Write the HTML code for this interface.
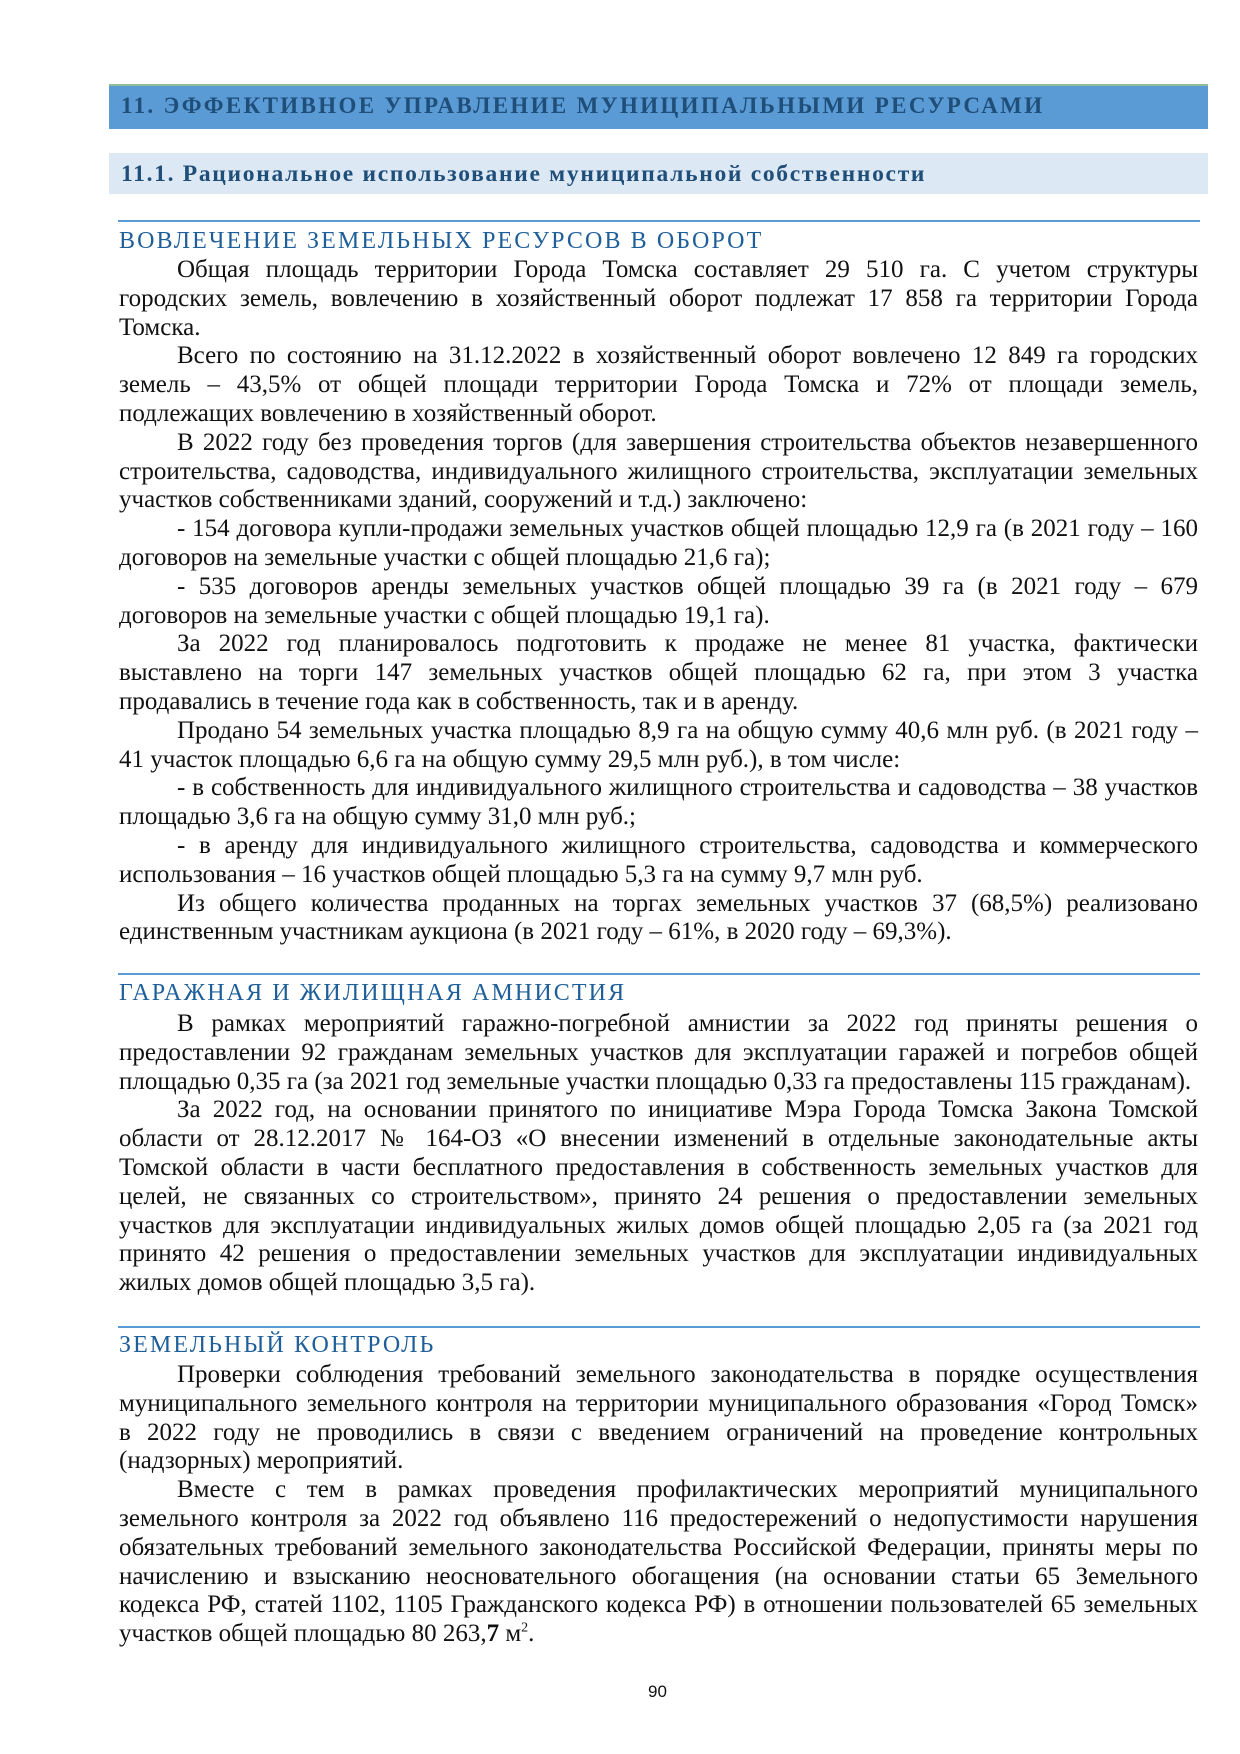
<!DOCTYPE html>
<html><head><meta charset="utf-8">
<style>
html,body{margin:0;padding:0;background:#fff;}
body{width:1240px;height:1754px;position:relative;overflow:hidden;font-family:"Liberation Serif","DejaVu Serif",serif;color:#111;}
.h1{position:absolute;left:109px;top:84px;width:1099px;height:43px;background:#5b9bd5;border-top:2px solid #8fbc9a;}
.h1 span{position:absolute;left:12px;top:7px;font-weight:bold;font-size:23px;letter-spacing:2.35px;color:#1f4e79;white-space:nowrap;}
.h2{position:absolute;left:109px;top:153px;width:1099px;height:41px;background:#dde8f5;}
.h2 span{position:absolute;left:12px;top:8px;font-weight:bold;font-size:23.5px;letter-spacing:1.7px;color:#1f4e79;white-space:nowrap;}
.rule{position:absolute;left:118px;width:1082px;height:0;border-top:2px solid #5b9bd5;}
.t{position:absolute;left:119px;font-size:24px;letter-spacing:2.1px;color:#1f5f99;white-space:nowrap;line-height:28px;}
.blk{position:absolute;left:119px;width:1079px;}
.blk div{height:28.8px;line-height:28.8px;font-size:25px;white-space:nowrap;text-align:justify;text-align-last:justify;}
.blk div.l{text-align:left;text-align-last:left;}
.blk div.i{padding-left:58px;}
.pn{position:absolute;left:648px;top:1682px;font-family:"Liberation Sans",sans-serif;font-size:17px;}
</style></head><body>
<div class="h1"><span>11. ЭФФЕКТИВНОЕ УПРАВЛЕНИЕ МУНИЦИПАЛЬНЫМИ РЕСУРСАМИ</span></div>
<div class="h2"><span>11.1. Рациональное использование муниципальной собственности</span></div>

<div class="rule" style="top:220px"></div>
<div class="t" style="top:227px">ВОВЛЕЧЕНИЕ ЗЕМЕЛЬНЫХ РЕСУРСОВ В ОБОРОТ</div>
<div class="blk" style="top:256px">
<div class="i">Общая площадь территории Города Томска составляет 29 510 га. С учетом структуры</div>
<div>городских земель, вовлечению в хозяйственный оборот подлежат 17 858 га территории Города</div>
<div class="l">Томска.</div>
<div class="i">Всего по состоянию на 31.12.2022 в хозяйственный оборот вовлечено 12 849 га городских</div>
<div>земель – 43,5% от общей площади территории Города Томска и 72% от площади земель,</div>
<div class="l">подлежащих вовлечению в хозяйственный оборот.</div>
<div class="i">В 2022 году без проведения торгов (для завершения строительства объектов незавершенного</div>
<div>строительства, садоводства, индивидуального жилищного строительства, эксплуатации земельных</div>
<div class="l">участков собственниками зданий, сооружений и т.д.) заключено:</div>
<div class="i">- 154 договора купли-продажи земельных участков общей площадью 12,9 га (в 2021 году – 160</div>
<div class="l">договоров на земельные участки с общей площадью 21,6 га);</div>
<div class="i">- 535 договоров аренды земельных участков общей площадью 39 га (в 2021 году – 679</div>
<div class="l">договоров на земельные участки с общей площадью 19,1 га).</div>
<div class="i">За 2022 год планировалось подготовить к продаже не менее 81 участка, фактически</div>
<div>выставлено на торги 147 земельных участков общей площадью 62 га, при этом 3 участка</div>
<div class="l">продавались в течение года как в собственность, так и в аренду.</div>
<div class="i">Продано 54 земельных участка площадью 8,9 га на общую сумму 40,6 млн руб. (в 2021 году –</div>
<div class="l">41 участок площадью 6,6 га на общую сумму 29,5 млн руб.), в том числе:</div>
<div class="i">- в собственность для индивидуального жилищного строительства и садоводства – 38 участков</div>
<div class="l">площадью 3,6 га на общую сумму 31,0 млн руб.;</div>
<div class="i">- в аренду для индивидуального жилищного строительства, садоводства и коммерческого</div>
<div class="l">использования – 16 участков общей площадью 5,3 га на сумму 9,7 млн руб.</div>
<div class="i">Из общего количества проданных на торгах земельных участков 37 (68,5%) реализовано</div>
<div class="l">единственным участникам аукциона (в 2021 году – 61%, в 2020 году – 69,3%).</div>
</div>

<div class="rule" style="top:973px"></div>
<div class="t" style="top:979px">ГАРАЖНАЯ И ЖИЛИЩНАЯ АМНИСТИЯ</div>
<div class="blk" style="top:1010px">
<div class="i">В рамках мероприятий гаражно-погребной амнистии за 2022 год приняты решения о</div>
<div>предоставлении 92 гражданам земельных участков для эксплуатации гаражей и погребов общей</div>
<div class="l">площадью 0,35 га (за 2021 год земельные участки площадью 0,33 га предоставлены 115 гражданам).</div>
<div class="i">За 2022 год, на основании принятого по инициативе Мэра Города Томска Закона Томской</div>
<div>области от 28.12.2017 № 164-ОЗ «О внесении изменений в отдельные законодательные акты</div>
<div>Томской области в части бесплатного предоставления в собственность земельных участков для</div>
<div>целей, не связанных со строительством», принято 24 решения о предоставлении земельных</div>
<div>участков для эксплуатации индивидуальных жилых домов общей площадью 2,05 га (за 2021 год</div>
<div>принято 42 решения о предоставлении земельных участков для эксплуатации индивидуальных</div>
<div class="l">жилых домов общей площадью 3,5 га).</div>
</div>

<div class="rule" style="top:1326px"></div>
<div class="t" style="top:1331px">ЗЕМЕЛЬНЫЙ КОНТРОЛЬ</div>
<div class="blk" style="top:1361px">
<div class="i">Проверки соблюдения требований земельного законодательства в порядке осуществления</div>
<div>муниципального земельного контроля на территории муниципального образования «Город Томск»</div>
<div>в 2022 году не проводились в связи с введением ограничений на проведение контрольных</div>
<div class="l">(надзорных) мероприятий.</div>
<div class="i">Вместе с тем в рамках проведения профилактических мероприятий муниципального</div>
<div>земельного контроля за 2022 год объявлено 116 предостережений о недопустимости нарушения</div>
<div>обязательных требований земельного законодательства Российской Федерации, приняты меры по</div>
<div>начислению и взысканию неосновательного обогащения (на основании статьи 65 Земельного</div>
<div>кодекса РФ, статей 1102, 1105 Гражданского кодекса РФ) в отношении пользователей 65 земельных</div>
<div class="l">участков общей площадью 80 263,<b>7</b> м<sup style="font-size:14px;line-height:0">2</sup>.</div>
</div>

<div class="pn">90</div>
</body></html>
